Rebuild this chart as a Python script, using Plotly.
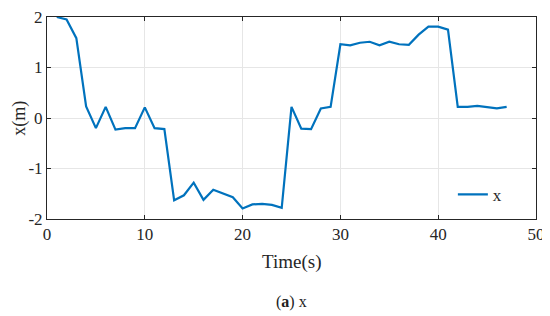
import plotly.graph_objects as go

# data
time_s = list(range(1, 48))
x_m = [2.0, 1.95, 1.58, 0.23, -0.2, 0.22, -0.23, -0.2, -0.2, 0.21,
       -0.2, -0.22, -1.63, -1.53, -1.28, -1.62, -1.42, -1.49, -1.57, -1.79,
       -1.71, -1.70, -1.72, -1.78, 0.22, -0.21, -0.22, 0.19, 0.22, 1.46,
       1.44, 1.49, 1.51, 1.44, 1.51, 1.46, 1.45, 1.65, 1.81, 1.81,
       1.75, 0.22, 0.22, 0.24, 0.21, 0.19, 0.22]

x_ticks = [0, 10, 20, 30, 40, 50]
y_ticks = [-2, -1, 0, 1, 2]
y_ticktext = ["-2", "-1", "0", "1", "2"]

serif = "Liberation Serif"
ink = "#262626"

fig = go.Figure()
fig.add_trace(go.Scatter(x=time_s, y=x_m, mode="lines", name="x",
                         line=dict(color="#0072BD", width=2.2)))

ax_common = dict(showline=True, linecolor=ink, linewidth=1, mirror="ticks",
                 ticks="inside", ticklen=4, tickcolor=ink, automargin=False,
                 ticklabeloverflow="allow",
                 showgrid=True, gridcolor="#e6e6e6", gridwidth=1, zeroline=False,
                 tickfont=dict(family=serif, size=17, color=ink))

fig.update_xaxes(range=[0, 50], tickvals=x_ticks, **ax_common)
fig.update_yaxes(range=[-2, 2], tickvals=y_ticks, ticktext=y_ticktext, **ax_common)

# the page has an 8px body margin, so the figure is sized to fit the window
fig.update_layout(
    width=542, height=308,
    margin=dict(l=39, r=14, t=9, b=97),
    plot_bgcolor="white", paper_bgcolor="white",
    showlegend=True,
    legend=dict(x=0.83, y=0.12, xanchor="left", yanchor="middle",
                bgcolor="rgba(0,0,0,0)", borderwidth=0,
                font=dict(family=serif, size=17, color=ink)),
    annotations=[
        dict(text="Time(s)", xref="paper", yref="paper", x=0.5, y=-0.212,
             xanchor="center", yanchor="middle", showarrow=False,
             font=dict(family=serif, size=19, color=ink)),
        dict(text="x(m)", xref="paper", yref="paper", x=-0.058, y=0.5,
             xanchor="center", yanchor="middle", showarrow=False, textangle=-90,
             font=dict(family=serif, size=18, color=ink)),
        dict(text="(<b>a</b>) x", xref="paper", yref="paper",
             x=0.5, y=-0.41, xanchor="center", yanchor="middle",
             showarrow=False,
             font=dict(family=serif, size=16, color="#222222")),
    ],
)

fig.write_html("out.html")
